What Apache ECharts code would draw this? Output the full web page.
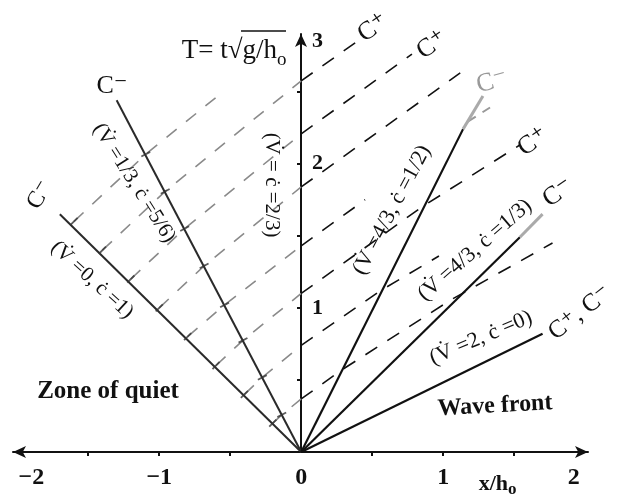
<!DOCTYPE html>
<html>
<head>
<meta charset="utf-8">
<title>Dam break characteristics</title>
<script src="https://cdn.jsdelivr.net/npm/echarts@6/dist/echarts.min.js"></script>
<style>html,body{margin:0;background:#fff}#chart{width:631px;height:496px}</style>
</head>
<body>
<div id="chart"></div>
<script>
// C- rays out of the origin, end points as [x/h0, T]
var raysLeft = [[-1.70, 1.65], [-1.30, 2.44]];
var raysRight = [[1.14, 2.24], [1.54, 1.49], [1.70, 0.82]];
// faded ends of two rays
var rayTips = [[[1.14, 2.24], [1.28, 2.47]], [[1.54, 1.49], [1.70, 1.65]]];
// C+ characteristics through the fan (kinks on each ray)
var cPlus = [
  [[-0.20, 0.20], [-0.137, 0.258], [0, 0.368], [0.285, 0.569], [1.057, 1.057], [1.77, 1.45]],
  [[-0.40, 0.40], [-0.274, 0.517], [0, 0.74], [0.56, 1.12], [0.97, 1.36]],
  [[-0.60, 0.60], [-0.41, 0.775], [0, 1.10], [0.85, 1.70], [1.54, 2.13]],
  [[-0.80, 0.80], [-0.54, 1.02], [0, 1.43], [0.45, 1.75]],
  [[-1.00, 1.00], [-0.684, 1.291], [0, 1.839], [1.12, 2.63]],
  [[-1.20, 1.20], [-0.821, 1.550], [0, 2.207], [0.78, 2.76]],
  [[-1.40, 1.40], [-0.958, 1.808], [0, 2.575], [0.41, 2.86]],
  [[-1.60, 1.60], [-1.095, 2.066], [-0.55, 2.50]]
];
var cPlusTail = [[1.17, 2.29], [1.33, 2.39]];
var xTicks = [-1.5, -1, -0.5, 0.5, 1, 1.5];
var xLabels = [-1.9, -1, 0, 1, 1.92];
var yTicks = [0.5, 1, 1.5, 2, 2.5];
var yLabels = [1, 2, 2.85];

var serif = '"Liberation Serif", "DejaVu Serif", serif';
var chart = echarts.init(document.getElementById('chart'));

function line(data, color, width, type) {
  return {
    type: 'line', data: data, symbol: 'none', silent: true, z: 3,
    lineStyle: { color: color, width: width, type: type }
  };
}

var series = [];
cPlus.forEach(function (pts) {
  var left = pts.filter(function (p) { return p[0] <= 0; });
  var right = pts.filter(function (p) { return p[0] >= 0; });
  if (left.length > 1) series.push(line(left, '#8a8a8a', 1.6, [13, 12]));
  if (right.length > 1) series.push(line(right, '#111', 1.6, [14, 12]));
});
series.push(line(cPlusTail, '#999', 2, [10, 8]));
raysLeft.forEach(function (p) { series.push(line([[0, 0], p], '#2a2a2a', 2, 'solid')); });
raysRight.forEach(function (p) { series.push(line([[0, 0], p], '#111', 2.2, 'solid')); });
rayTips.forEach(function (p) { series.push(line(p, '#aaa', 3, 'solid')); });

// small ticks where the C+ lines leave the first two rays
series.push({
  type: 'scatter', silent: true, z: 4, symbol: 'rect', symbolSize: [1.8, 10],
  symbolRotate: -45, itemStyle: { color: '#333' },
  data: cPlus.map(function (p) { return p[0]; })
});
series.push({
  type: 'scatter', silent: true, z: 4, symbol: 'rect', symbolSize: [1.8, 10],
  symbolRotate: -62, itemStyle: { color: '#333' },
  data: cPlus.map(function (p) { return p[1]; })
});

function txt(x, y, s, deg, size, extra) {
  var st = { text: s, font: size + 'px ' + serif, fill: '#111', align: 'center', verticalAlign: 'middle' };
  for (var k in extra) st[k] = extra[k];
  return { type: 'text', x: x, y: y, rotation: deg * Math.PI / 180, z: 50, style: st };
}

var graphics = [
  txt(108, 392, 'Zone of quiet', 0, 25, { font: 'bold 25px ' + serif }),
  txt(495, 406, 'Wave front', 3, 24, { font: 'bold 24px ' + serif }),
  txt(92, 280, '(V\u0307 =0, c\u0307 =1)', -42.6, 21),
  txt(134, 183, '(V\u0307 =1/3, c\u0307 =5/6)', -57.6, 21),
  txt(272, 185, '(V\u0307 = c\u0307 =2/3)', -90, 21),
  txt(392, 210, '(V\u0307 =4/3, c\u0307 =1/2)', 62, 22),
  txt(475, 250, '(V\u0307 =4/3, c\u0307 =1/3)', 41, 22),
  txt(481, 338, '(V\u0307 =2, c\u0307 =0)', 23, 22),
  txt(112, 86, 'C\u207B', 0, 26),
  txt(40, 195, 'C\u207B', 60, 24),
  txt(373, 28, 'C\u207A', 35, 26),
  txt(432, 45, 'C\u207A', 35, 26),
  txt(492, 82, 'C\u207B', 15, 26, { fill: '#999' }),
  txt(533, 142, 'C\u207A', 35, 26),
  txt(558, 193, 'C\u207B', 35, 26),
  txt(580, 313, 'C\u207A, C\u207B', 38, 25),
  { type: 'text', x: 277, y: 51, z: 50, style: { text: 'T= t\u221Ag/h', font: '27px ' + serif, fill: '#111', align: 'right', verticalAlign: 'middle' } },
  { type: 'text', x: 277, y: 60, z: 50, style: { text: 'o', font: '19px ' + serif, fill: '#111', align: 'left', verticalAlign: 'middle' } },
  { type: 'line', z: 50, shape: { x1: 241, y1: 31, x2: 286, y2: 31 }, style: { stroke: '#111', lineWidth: 1.6 } },
  { type: 'text', x: 508, y: 484, z: 50, style: { text: 'x/h', font: 'bold 22px ' + serif, fill: '#111', align: 'right', verticalAlign: 'middle' } },
  { type: 'text', x: 508, y: 490, z: 50, style: { text: 'o', font: 'bold 17px ' + serif, fill: '#111', align: 'left', verticalAlign: 'middle' } }
];

var axisColor = '#111';
chart.setOption({
  animation: false,
  backgroundColor: '#fff',
  grid: { left: 13, right: 43, top: 34, bottom: 44, outerBoundsMode: 'none' },
  xAxis: {
    type: 'value', min: -2.03, max: 2.02,
    axisLine: { onZero: true, symbol: ['arrow', 'arrow'], symbolSize: [9, 13], lineStyle: { color: axisColor, width: 2 } },
    axisTick: { show: true, customValues: xTicks, length: 4, lineStyle: { color: axisColor, width: 2 } },
    axisLabel: {
      customValues: xLabels, margin: 14, color: axisColor, fontFamily: serif, fontWeight: 'bold', fontSize: 24,
      formatter: function (v) { var r = Math.round(v); return r < 0 ? '\u2212' + (-r) : '' + r; }
    },
    splitLine: { show: false }
  },
  yAxis: {
    type: 'value', min: 0, max: 2.9, offset: -288,
    axisLine: { onZero: false, symbol: ['none', 'arrow'], symbolSize: [9, 13], lineStyle: { color: axisColor, width: 2 } },
    axisTick: { show: true, customValues: yTicks, length: 4, lineStyle: { color: axisColor, width: 2 } },
    axisLabel: {
      customValues: yLabels, inside: true, margin: 11, color: axisColor, fontFamily: serif, fontWeight: 'bold', fontSize: 22,
      formatter: function (v) { return '' + Math.round(v); }
    },
    splitLine: { show: false }
  },
  graphic: graphics,
  series: series
});
</script>
</body>
</html>
